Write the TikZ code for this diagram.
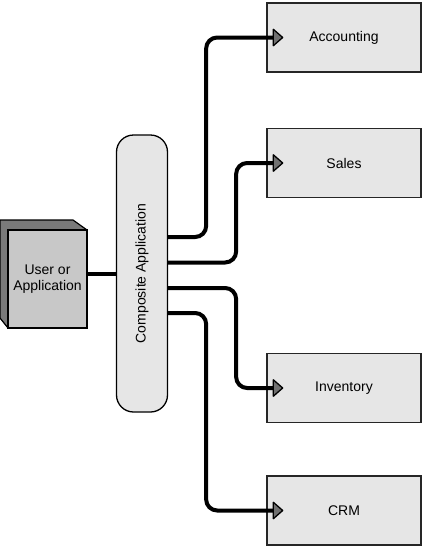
\documentclass[tikz,border=0pt]{standalone}
\usepackage{fontspec}
\setmainfont{Liberation Sans}
\usepackage{graphicx}
\usetikzlibrary{arrows.meta,calc}
\definecolor{boxfill}{HTML}{E6E6E6}
\definecolor{frontfill}{HTML}{C8C8C8}
\definecolor{sidefill}{HTML}{7A7A7A}
\definecolor{tipfill}{HTML}{707070}
\tikzset{
  sysbox/.style={draw=black!85, line width=1.3pt, fill=boxfill, minimum width=154pt, minimum height=69pt, inner sep=0pt, font=\fontsize{14}{16.5}\selectfont},
  conn/.style={line width=4pt, rounded corners=11pt, -{Triangle[length=11pt,width=19pt,fill=tipfill,line width=1.3pt,round]}},
  plain/.style={line width=4pt},
}
\begin{document}
\begin{tikzpicture}[x=1pt,y=-1pt]
\useasboundingbox (0,0) rectangle (423,547);
% back of user box
\draw[line width=1.2pt, fill=sidefill, line join=round] (0,220) -- (73,220) -- (87,230) -- (87,328) -- (8,328) -- (0,318) -- cycle;
\node[draw, line width=1.3pt, fill=frontfill, minimum width=79pt, minimum height=98pt, inner sep=0pt, align=center, font=\fontsize{14}{16.5}\selectfont] (user) at (47.5,279) {User or\\Application};
% composite
\node[draw, line width=1.3pt, fill=boxfill, rounded corners=17pt, minimum width=51pt, minimum height=277pt, inner sep=0pt, font=\fontsize{14}{16.5}\selectfont] (comp) at (142,273.5) {\rotatebox{90}{Composite Application}};
% targets
\node[sysbox] (acc) at (344,37.5) {Accounting};
\node[sysbox] (sales) at (344,163) {Sales};
\node[sysbox] (inv) at (344,388) {Inventory};
\node[sysbox] (crm) at (344,510.5) {CRM};
% connectors
\draw[plain] (comp.west -| user.east) -- (comp.west);
\draw[conn] ([yshift=36.5pt]comp.east) -| ([xshift=38pt]comp.east |- acc.west) -- ([xshift=17pt]acc.west);
\draw[conn] ([yshift=11pt]comp.east) -| ([xshift=68pt]comp.east |- sales.west) -- ([xshift=17pt]sales.west);
\draw[conn] ([yshift=-14.5pt]comp.east) -| ([xshift=68pt]comp.east |- inv.west) -- ([xshift=17pt]inv.west);
\draw[conn] ([yshift=-39.5pt]comp.east) -| ([xshift=38pt]comp.east |- crm.west) -- ([xshift=17pt]crm.west);
\end{tikzpicture}
\end{document}
